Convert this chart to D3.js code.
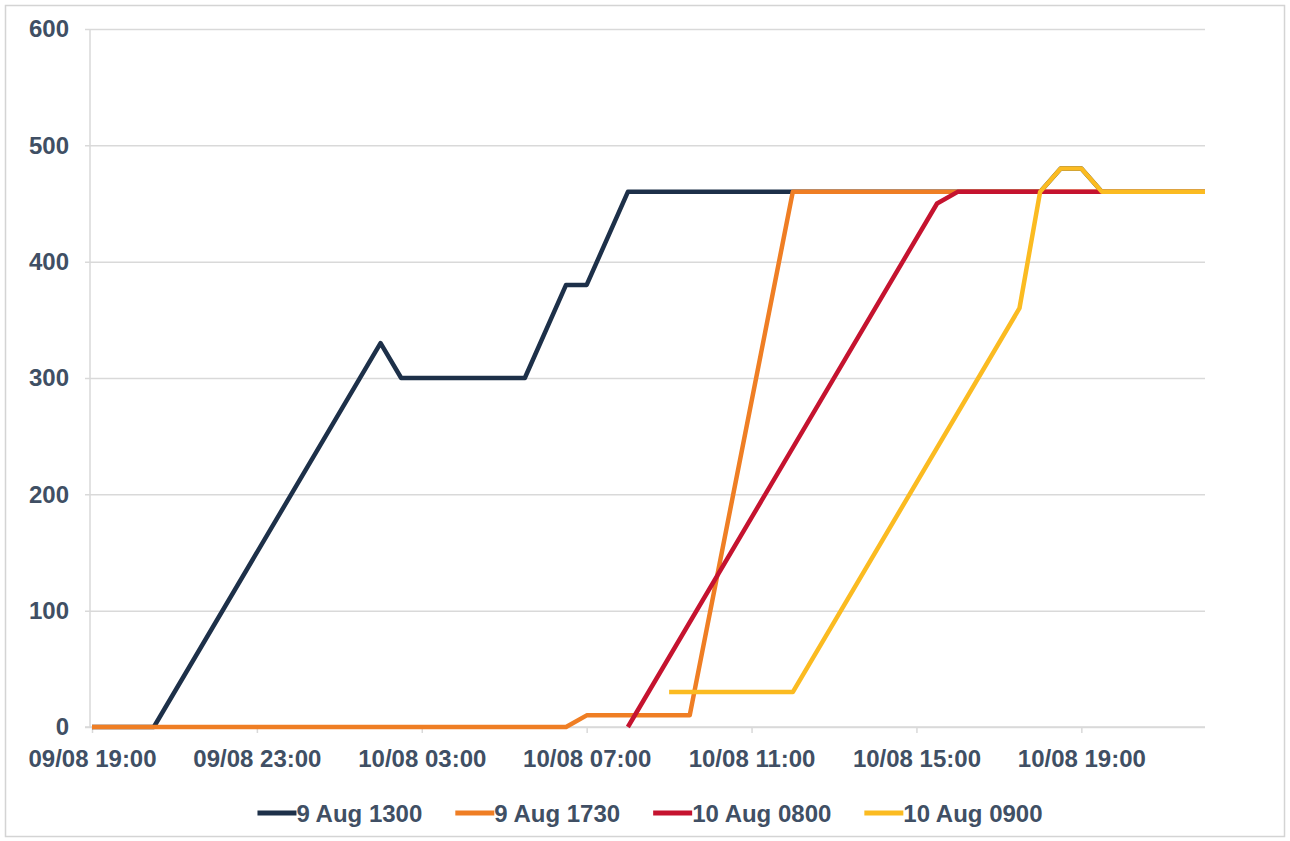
<!DOCTYPE html>
<html>
<head>
<meta charset="utf-8">
<script src="https://cdn.jsdelivr.net/npm/d3@7/dist/d3.min.js"></script>
<style>
  html, body { margin: 0; padding: 0; background: #ffffff; }
  svg { display: block; }
  text { font-family: "Liberation Sans", Arial, sans-serif; font-weight: bold; }
</style>
</head>
<body>
<svg id="chart" width="1290" height="841"></svg>
<script>
// Time labels and values for each forecast run
const seriesNames = ["9 Aug 1300", "9 Aug 1730", "10 Aug 0800", "10 Aug 0900"];
const seriesColors = ["#1d3049", "#ef7e24", "#c5132f", "#fbbb21"];

const run1300Times = ["09/08 19:00", "09/08 20:30", "10/08 02:00", "10/08 02:30", "10/08 05:30", "10/08 06:30", "10/08 07:00", "10/08 08:00", "10/08 18:00", "10/08 18:30", "10/08 19:00", "10/08 19:30", "10/08 22:00"];
const run1300Values = [0, 0, 330, 300, 300, 380, 380, 460, 460, 480, 480, 460, 460];

const run1730Times = ["09/08 19:00", "10/08 06:30", "10/08 07:00", "10/08 09:30", "10/08 12:00", "10/08 22:00"];
const run1730Values = [0, 0, 10, 10, 460, 460];

const run0800Times = ["10/08 08:00", "10/08 15:30", "10/08 16:00", "10/08 19:30"];
const run0800Values = [0, 450, 460, 460];

const run0900Times = ["10/08 09:00", "10/08 12:00", "10/08 17:30", "10/08 18:00", "10/08 18:30", "10/08 19:00", "10/08 19:30", "10/08 22:00"];
const run0900Values = [30, 30, 360, 460, 480, 480, 460, 460];

const xTickLabels = ["09/08 19:00", "09/08 23:00", "10/08 03:00", "10/08 07:00", "10/08 11:00", "10/08 15:00", "10/08 19:00"];
const yTickValues = [0, 100, 200, 300, 400, 500, 600];
const xDomain = ["09/08 19:00", "10/08 22:00"];

const parse = d3.timeParse("%d/%m %H:%M");
const labelColor = "#404f64";
const gridColor = "#d9d9d9";
const fontSize = 24;

const svg = d3.select("#chart");

// outer frame
svg.append("rect")
  .attr("x", 5.5).attr("y", 5.5)
  .attr("width", 1279).attr("height", 831)
  .attr("fill", "#fff").attr("stroke", "#d4d4d4").attr("stroke-width", 1.5);

const x = d3.scaleTime().domain(xDomain.map(parse)).range([92, 1205]);
const y = d3.scaleLinear().domain([0, 600]).range([727, 29]);

// horizontal gridlines and y labels
const yAxis = d3.axisLeft(y).tickValues(yTickValues).tickSize(1205 - 85).tickPadding(16);
const gy = svg.append("g").attr("transform", "translate(1205,0)").call(yAxis);
gy.select(".domain").remove();
gy.selectAll(".tick line").attr("stroke", gridColor).attr("stroke-width", 1.5);
gy.selectAll(".tick text")
  .attr("fill", labelColor).attr("font-size", fontSize)
  .attr("font-family", "'Liberation Sans', Arial, sans-serif").attr("font-weight", "bold");

// vertical axis line
svg.append("line")
  .attr("x1", 90).attr("x2", 90).attr("y1", y(600)).attr("y2", y(0))
  .attr("stroke", gridColor).attr("stroke-width", 1.5);

// x axis
const xAxis = d3.axisBottom(x)
  .tickValues(xTickLabels.map(parse))
  .tickFormat(d3.timeFormat("%d/%m %H:%M"))
  .tickSize(6).tickPadding(17);
const gx = svg.append("g").attr("transform", `translate(0,${y(0)})`).call(xAxis);
gx.select(".domain").attr("stroke", gridColor).attr("stroke-width", 1.5)
  .attr("d", `M85,0H1205`);
gx.selectAll(".tick line").attr("stroke", gridColor).attr("stroke-width", 1.5);
gx.selectAll(".tick text")
  .attr("fill", labelColor).attr("font-size", fontSize)
  .attr("font-family", "'Liberation Sans', Arial, sans-serif").attr("font-weight", "bold");

// series lines
const allSeries = [
  { times: run1300Times, values: run1300Values },
  { times: run1730Times, values: run1730Values },
  { times: run0800Times, values: run0800Values },
  { times: run0900Times, values: run0900Values }
];
const line = d3.line().x(d => x(d[0])).y(d => y(d[1]));

allSeries.forEach((s, i) => {
  const pts = s.times.map((t, j) => [parse(t), s.values[j]]);
  svg.append("path")
    .datum(pts)
    .attr("d", line)
    .attr("fill", "none")
    .attr("stroke", seriesColors[i])
    .attr("stroke-width", 4.5)
    .attr("stroke-linejoin", "round")
    .attr("stroke-linecap", "butt");
});

// legend
const legend = svg.append("g");
const items = seriesNames.map((name, i) => {
  const g = legend.append("g");
  g.append("line").attr("x1", 0).attr("x2", 39).attr("y1", 0).attr("y2", 0)
    .attr("stroke", seriesColors[i]).attr("stroke-width", 5);
  const t = g.append("text").attr("x", 39).attr("y", 8.5)
    .attr("fill", labelColor).attr("font-size", fontSize).text(name);
  return { g, w: 39 + t.node().getComputedTextLength() };
});
const gap = 33;
const total = d3.sum(items, d => d.w) + gap * (items.length - 1);
let cx = 650 - total / 2;
items.forEach(it => {
  it.g.attr("transform", `translate(${cx},813)`);
  cx += it.w + gap;
});
</script>
</body>
</html>
